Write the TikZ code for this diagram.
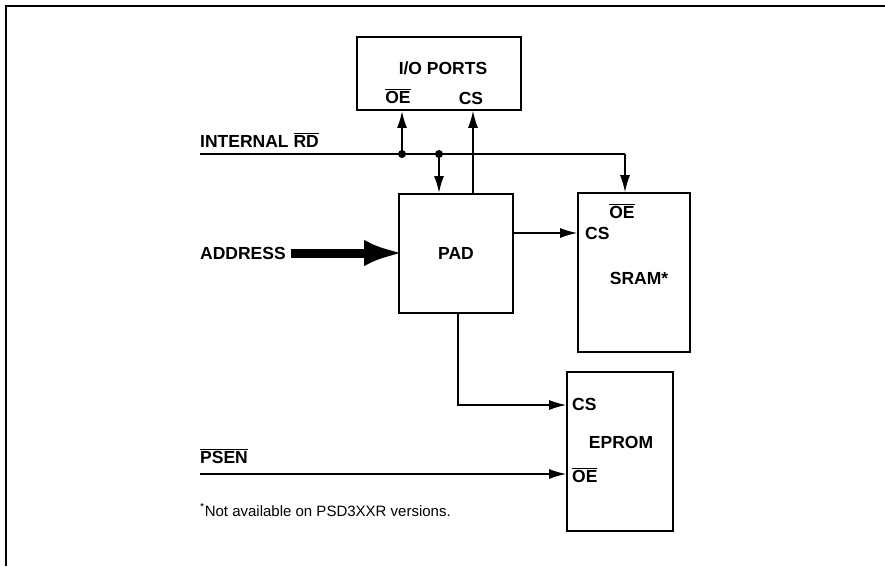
\documentclass[tikz,border=0pt]{standalone}
\usepackage{fontspec}
\setmainfont{Liberation Sans}
\usetikzlibrary{arrows.meta,calc,positioning}
\newcommand{\barsig}[1]{$\overline{\mbox{#1}}$}

\begin{document}
\begin{tikzpicture}[
    x=1pt,y=-1pt,
    >={Latex[length=17pt,width=10pt]},
    blk/.style={draw,line width=1.8pt,inner sep=0pt},
    lbl/.style={font=\fontsize{17.5}{19}\selectfont\bfseries,inner sep=0pt},
    wire/.style={line width=1.2pt},
    dot/.style={circle,fill,inner sep=0pt,minimum size=8pt}]
  \useasboundingbox (0,0) rectangle (885,566);
  % frame: only top and left edges
  \draw[line width=1.8pt] (6,566) -- (6,6) -- (885,6);
  % blocks
  \node[blk,minimum width=164pt,minimum height=73pt] (io) at (439,73.5) {};
  \node[blk,minimum width=114pt,minimum height=119pt] (pad) at (456,253.5) {};
  \node[blk,minimum width=112pt,minimum height=159pt] (sram) at (634,272.5) {};
  \node[blk,minimum width=106pt,minimum height=159pt] (eprom) at (620,451.5) {};
  % block texts
  \node[lbl] (iot) at (443,68) {I/O PORTS};
  \node[lbl] (iooe) at (398,96) {\barsig{OE}};
  \node[lbl] (iocs) at (471,98) {CS};
  \node[lbl] (padt) at (456,253) {PAD};
  \node[lbl] (sramoe) at (622,211) {\barsig{OE}};
  \node[lbl,anchor=west] (sramcs) at (585,233) {CS};
  \node[lbl] (sramt) at (639,278) {SRAM*};
  \node[lbl,anchor=west] (epcs) at (572,404) {CS};
  \node[lbl] (ept) at (621,442) {EPROM};
  \node[lbl,anchor=west] (epoe) at (572,475) {\barsig{OE}};
  % signal labels
  \node[lbl,anchor=west] (rd) at (200,140) {INTERNAL \barsig{RD}};
  \node[lbl,anchor=west] (addr) at (200,253) {ADDRESS};
  \node[lbl,anchor=west] (psen) at (200,456) {\barsig{PSEN}};
  \node[anchor=west,inner sep=0pt,font=\fontsize{15}{17}\selectfont] (note) at (200,510)
    {\textsuperscript{*}Not available on PSD3XXR versions.};
  % junctions
  \coordinate (rdin) at (200,154);
  \node[dot] (j1) at (402,154) {};
  \node[dot] (j2) at (439,154) {};
  \coordinate (rdturn) at (625,154);
  \coordinate (padcs) at (473,0);
  \coordinate (padout) at (458,405);
  \coordinate (psenin) at (200,474);
  % connectors
  \draw[wire] (rdin) -- (rdturn);
  \draw[wire,->] (rdturn) -- (rdturn |- sram.north);
  \draw[line width=2pt,->] (j1.center) -- (j1 |- io.south);
  \draw[line width=2pt,->] (j2.center) -- (j2 |- pad.north);
  \draw[wire,->] (padcs |- pad.north) -- (padcs |- io.south);
  \draw[wire,->] (pad.east |- sramcs) -- (sram.west |- sramcs);
  \draw[wire,->] (padout |- pad.south) -- (padout) -- (eprom.west |- padout);
  \draw[wire,->] (psenin) -- (eprom.west |- psenin);
  \draw[line width=9pt,shorten >=-6pt,-{Latex[length=40pt,width=26pt]}] (addr.east) ++(5,0) -- (pad.west |- addr);
\end{tikzpicture}
\end{document}
